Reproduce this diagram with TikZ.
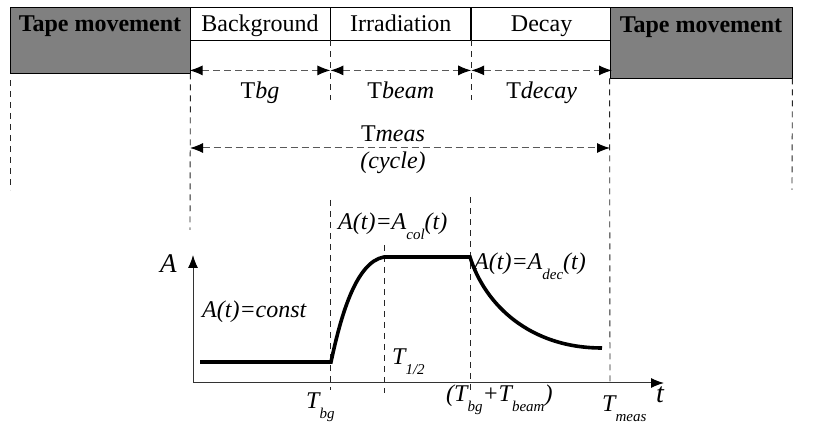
\documentclass[tikz,border=0pt]{standalone}
\usepackage{fontspec}
\setmainfont{Liberation Serif}
\usetikzlibrary{arrows.meta,positioning}
\newcommand{\lsub}[1]{\raisebox{-10pt}{\fontsize{15}{15}\selectfont\textit{#1}}}
\begin{document}
\begin{tikzpicture}[x=1pt, y=-1pt, >={Latex[length=13pt,width=10pt,color=black]}, font=\fontsize{24}{27}\selectfont,
		phase/.style={draw, line width=0.8pt, minimum width=140pt, minimum height=33pt, inner sep=0pt, text height=19pt, text depth=3pt},
		tape/.style={draw, line width=0.8pt, fill=black!50, inner sep=0pt},
		tapetxt/.style={anchor=base, inner sep=0pt, font=\fontsize{24}{27}\selectfont\bfseries},
		guide/.style={black!85, line width=0.9pt, dash pattern=on 6pt off 5pt},
		span/.style={<->, black!65, line width=1pt, dash pattern=on 7pt off 4pt},
		curve/.style={line width=3.6pt},
		axis/.style={->, black!80, line width=1pt},
		lbl/.style={anchor=base west, inner sep=0pt, font=\fontsize{24}{27}\selectfont\itshape}]
	\useasboundingbox (0,0) rectangle (839,427);
	\node[tape, minimum width=180pt, minimum height=66pt] (tapeL) at (100,40) {};
	\node[tapetxt] (tapeLtxt) at (100,32) {Tape movement};
	\node[phase] (bg) at (260,23.5) {Background};
	\node[phase, right=0pt of bg] (irr) {Irradiation};
	\node[phase, right=0pt of irr] (dec) {Decay};
	\node[tape, minimum width=182pt, minimum height=71pt] (tapeR) at (701,42.5) {};
	\node[tapetxt] (tapeRtxt) at (701,33) {Tape movement};
	\begin{scope}
		\draw[guide] (10,80) -- (10,190);
		\draw[guide] (tapeL.south east) -- (190,230);
		\draw[guide] (bg.south east) -- ++(0,60);
		\draw[guide] (330,200) -- (330,390);
		\draw[guide] (irr.south east) -- ++(0,60);
		\draw[guide] (470,197) -- (470,390);
		\draw[guide] (tapeR.south west) -- (610,385);
		\draw[guide] (tapeR.south east) -- (792,190);
		\draw[guide] (384,245) -- (384,393);
	\end{scope}
	\draw[span] ([yshift=-30pt]bg.south west) -- ([yshift=-30pt]bg.south east) node[below=8pt, midway, text=black] (tbg) {T\textit{bg}};
	\draw[span] ([yshift=-30pt]irr.south west) -- ([yshift=-30pt]irr.south east) node[below=8pt, midway, text=black] (tbeam) {T\textit{beam}};
	\draw[span] ([yshift=-30pt]dec.south west) -- ([yshift=-30pt]dec.south east) node[below=8pt, midway, text=black] (tdecay) {T\textit{decay}};
	\coordinate (m0) at (190,148);
	\coordinate (m1) at (610,148);
	\draw[span] (m0) -- (m1) node[above=2pt, xshift=-7pt, midway, text=black] (tmeas) {T\textit{meas}}
		node[below=0pt, xshift=-7pt, midway, text=black] (cycle) {\textit{(cycle)}};
	\coordinate (O) at (193,383);
	\draw[axis] (O) -- (193,255) coordinate (Atop);
	\draw[axis] (O) -- (664,383) coordinate (ttip);
	\draw[curve] (200,362) -- (331,362) .. controls (340,320) and (355,262) .. (384,257) -- (470,257)
		.. controls (485,305) and (530,348) .. (602,348);
	\node[lbl, font=\fontsize{27}{30}\selectfont\itshape] (Alab) at (160,273) {A};
	\node[lbl, font=\fontsize{28}{30}\selectfont\itshape] (tlab) at (656,403) {t};
	\node[lbl] (lconst) at (202,318) {A(t)=const};
	\node[lbl] (lcol) at (338,230) {A(t)=A\lsub{col}(t)};
	\node[lbl] (ldec) at (474,270) {A(t)=A\lsub{dec}(t)};
	\node[lbl] (lhalf) at (392,365) {T\lsub{1/2}};
	\node[lbl] (lbg) at (306,409) {T\lsub{bg}};
	\node[lbl] (lsum) at (446,402) {(T\lsub{bg}+T\lsub{beam})};
	\node[lbl] (lmeas) at (602,412) {T\lsub{meas}};
\end{tikzpicture}
\end{document}
